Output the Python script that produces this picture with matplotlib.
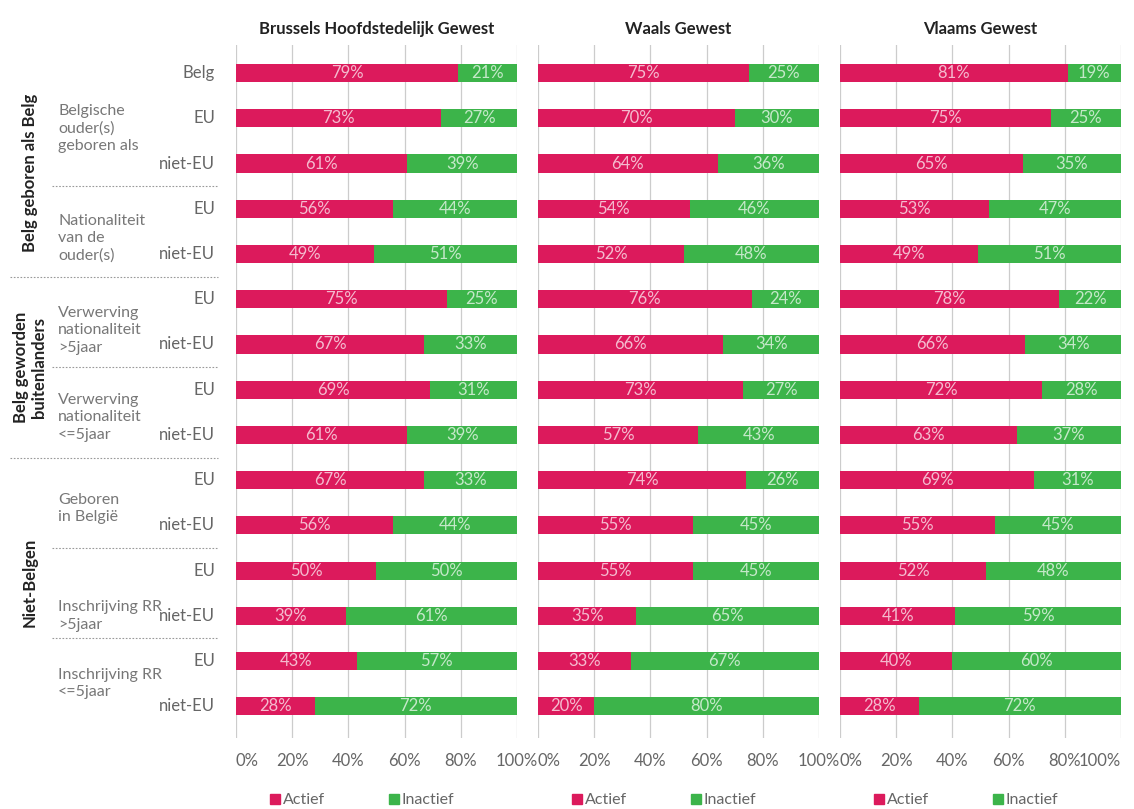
import numpy as np
import matplotlib
matplotlib.use("Agg")
import matplotlib.pyplot as plt
from matplotlib.transforms import blended_transform_factory
from matplotlib.patches import Patch

plt.rcParams['font.family'] = ['Lato', 'DejaVu Sans']

regions = ["Brussels Hoofdstedelijk Gewest", "Waals Gewest", "Vlaams Gewest"]
row_labels = ["Belg", "EU", "niet-EU", "EU", "niet-EU", "EU", "niet-EU",
              "EU", "niet-EU", "EU", "niet-EU", "EU", "niet-EU", "EU", "niet-EU"]

actief_bru = [79, 73, 61, 56, 49, 75, 67, 69, 61, 67, 56, 50, 39, 43, 28]
inactief_bru = [21, 27, 39, 44, 51, 25, 33, 31, 39, 33, 44, 50, 61, 57, 72]
actief_wal = [75, 70, 64, 54, 52, 76, 66, 73, 57, 74, 55, 55, 35, 33, 20]
inactief_wal = [25, 30, 36, 46, 48, 24, 34, 27, 43, 26, 45, 45, 65, 67, 80]
actief_vla = [81, 75, 65, 53, 49, 78, 66, 72, 63, 69, 55, 52, 41, 40, 28]
inactief_vla = [19, 25, 35, 47, 51, 22, 34, 28, 37, 31, 45, 48, 59, 60, 72]

subgroups = ["Belgische\nouder(s)\ngeboren als", "Nationaliteit\nvan de\nouder(s)",
             "Verwerving\nnationaliteit\n>5jaar", "Verwerving\nnationaliteit\n<=5jaar",
             "Geboren\nin België", "Inschrijving RR\n>5jaar", "Inschrijving RR\n<=5jaar"]
subgroup_pos = [1.22, 3.65, 5.69, 7.61, 9.62, 12.0, 13.5]

groups = ["Belg geboren als Belg", "Belg geworden\nbuitenlanders", "Niet-Belgen"]
group_pos = [2.2, 6.5, 11.26]

sep_pos = [2.5, 4.5, 6.5, 8.5, 10.5, 12.5]
sep_long = [False, True, False, True, False, False]

ticks = [0, 20, 40, 60, 80, 100]

PINK = "#DC1A5C"
GREEN = "#3CB44A"
TXT = "#666666"

W, H = 1134, 809
fig = plt.figure(figsize=(W / 100, H / 100), dpi=100)

data = [(actief_bru, inactief_bru), (actief_wal, inactief_wal), (actief_vla, inactief_vla)]
lefts = [236, 538, 840]
pw = 281
top, bot = 45, 738
y = np.arange(len(row_labels))
axes = []
for i, (act, ina) in enumerate(data):
    ax = fig.add_axes([lefts[i] / W, 1 - bot / H, pw / W, (bot - top) / H])
    axes.append(ax)
    ax.barh(y, act, height=0.4, color=PINK, zorder=3)
    ax.barh(y, ina, left=act, height=0.4, color=GREEN, zorder=3)
    for yi, a, b in zip(y, act, ina):
        ax.text(a / 2, yi, f"{a}%", ha="center", va="center", color="white",
                alpha=0.7, fontsize=12, zorder=4)
        ax.text(a + b / 2, yi, f"{b}%", ha="center", va="center", color="white",
                alpha=0.7, fontsize=12, zorder=4)
    ax.set_xlim(0, 100)
    ax.set_ylim(14.7, -0.62)
    ax.set_xticks(ticks)
    ax.set_xticklabels([f"{t}%" for t in ticks], fontsize=12, color=TXT)
    ax.get_xticklabels()[0].set_ha("left")
    if i == 2:
        ax.get_xticklabels()[-1].set_ha("right")
    ax.tick_params(axis="x", length=0, pad=11)
    ax.set_yticks([])
    ax.grid(axis="x", color="#cccccc", linewidth=0.9, zorder=0)
    for s in ax.spines.values():
        s.set_visible(False)
    ax.set_title(regions[i], fontsize=12, fontweight="bold", color="#222222", pad=8)
    handles = [Patch(color=PINK, label="Actief"), Patch(color=GREEN, label="Inactief")]
    ax.legend(handles=handles, loc="center", bbox_to_anchor=(0.45, -0.09),
              ncol=2, frameon=False, fontsize=11.5, handlelength=0.6, handleheight=0.6,
              handletextpad=0.2, columnspacing=4, labelcolor=TXT, borderpad=0)

# left-hand annotation column
tr = blended_transform_factory(fig.transFigure, axes[0].transData)
for yi, lab in zip(y, row_labels):
    fig.text(215 / W, yi, lab, transform=tr, ha="right", va="center",
             fontsize=12, color=TXT)
for lab, p in zip(subgroups, subgroup_pos):
    fig.text(58 / W, p, lab, transform=tr, ha="left", va="center",
             fontsize=11.5, color="#777777", linespacing=1.3)
for lab, p in zip(groups, group_pos):
    fig.text(30 / W, p, lab, transform=tr, ha="center", va="center", rotation=90,
             fontsize=12, color="#222222", fontweight="bold", linespacing=1.1)
for p, lg in zip(sep_pos, sep_long):
    x0 = 10 if lg else 52
    fig.add_artist(plt.Line2D([x0 / W, 218 / W], [p, p], transform=tr,
                              color="#999999", linewidth=0.8, linestyle=(0, (1.5, 1.5))))

fig.savefig("out.png", dpi=100)
